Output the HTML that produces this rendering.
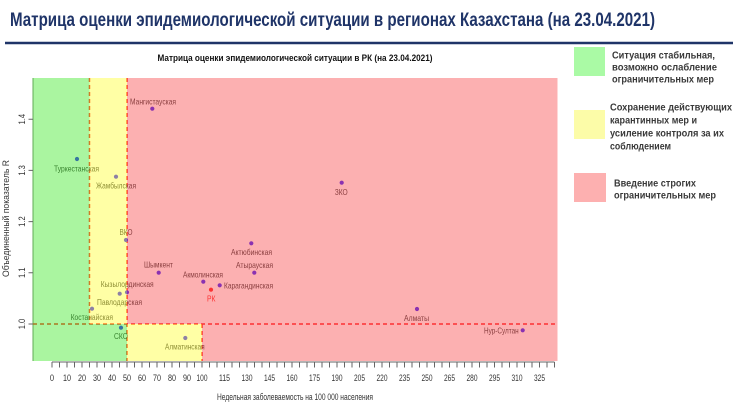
<!DOCTYPE html>
<html>
<head>
<meta charset="utf-8">
<style>
  html,body{margin:0;padding:0;background:#fff;}
  svg{display:block;}
  text{font-family:"Liberation Sans","DejaVu Sans",sans-serif;}
</style>
</head>
<body>
<svg width="740" height="413" viewBox="0 0 740 413" xmlns="http://www.w3.org/2000/svg">
  <rect x="0" y="0" width="740" height="413" fill="#ffffff"/>

  <!-- Main title -->
  <text x="10" y="26" font-size="19" font-weight="bold" fill="#1f3468" textLength="645" lengthAdjust="spacingAndGlyphs">Матрица оценки эпидемиологической ситуации в регионах Казахстана (на 23.04.2021)</text>
  <line x1="5" y1="43" x2="733" y2="43" stroke="#1f3468" stroke-width="2.5"/>

  <!-- Chart subtitle -->
  <text x="157.5" y="61" font-size="9.5" font-weight="bold" fill="#111" textLength="275" lengthAdjust="spacingAndGlyphs">Матрица оценки эпидемиологической ситуации в РК (на 23.04.2021)</text>

  <!-- ===== Plot content under overlay ===== -->
  <g>
    <line x1="33" y1="78" x2="33" y2="361" stroke="#6a6a6a" stroke-width="1"/>

    <g stroke="#ff0000" stroke-width="1.5" stroke-dasharray="4,3" fill="none">
      <line x1="89.5" y1="78" x2="89.5" y2="324"/>
      <line x1="127" y1="78" x2="127" y2="361"/>
      <line x1="202" y1="324" x2="202" y2="361"/>
      <line x1="33" y1="324" x2="557" y2="324"/>
    </g>

    <g font-size="8.5" fill="#141414">
      <text x="130" y="104.5" textLength="46" lengthAdjust="spacingAndGlyphs">Мангистауская</text>
      <text x="54" y="171.5" textLength="45" lengthAdjust="spacingAndGlyphs">Туркестанская</text>
      <text x="96" y="188.5" textLength="40" lengthAdjust="spacingAndGlyphs">Жамбылская</text>
      <text x="119.5" y="235" textLength="13" lengthAdjust="spacingAndGlyphs">ВКО</text>
      <text x="144" y="267.5" textLength="29" lengthAdjust="spacingAndGlyphs">Шымкент</text>
      <text x="231" y="255" textLength="41" lengthAdjust="spacingAndGlyphs">Актюбинская</text>
      <text x="236" y="268" textLength="37" lengthAdjust="spacingAndGlyphs">Атырауская</text>
      <text x="183" y="277.5" textLength="40" lengthAdjust="spacingAndGlyphs">Акмолинская</text>
      <text x="224" y="288.5" textLength="49" lengthAdjust="spacingAndGlyphs">Карагандинская</text>
      <text x="100.7" y="287" textLength="53" lengthAdjust="spacingAndGlyphs">Кызылординская</text>
      <text x="97" y="305" textLength="45" lengthAdjust="spacingAndGlyphs">Павлодарская</text>
      <text x="70.7" y="320" textLength="42.3" lengthAdjust="spacingAndGlyphs">Костанайская</text>
      <text x="114" y="339" textLength="14" lengthAdjust="spacingAndGlyphs">СКО</text>
      <text x="165" y="349.5" textLength="39.7" lengthAdjust="spacingAndGlyphs">Алматинская</text>
      <text x="404" y="321" textLength="25" lengthAdjust="spacingAndGlyphs">Алматы</text>
      <text x="484" y="333.5" textLength="34.7" lengthAdjust="spacingAndGlyphs">Нур-Султан</text>
      <text x="334.7" y="195" textLength="13" lengthAdjust="spacingAndGlyphs">ЗКО</text>
      <text x="207" y="301.5" textLength="8.5" lengthAdjust="spacingAndGlyphs" fill="#ff0000">РК</text>
    </g>

    <g fill="#1a00ff">
      <circle cx="152.3" cy="108.7" r="2.1"/>
      <circle cx="77" cy="159" r="2.1"/>
      <circle cx="116" cy="176.7" r="2.1"/>
      <circle cx="126" cy="240" r="2.1"/>
      <circle cx="158.7" cy="272.7" r="2.1"/>
      <circle cx="203.3" cy="281.7" r="2.1"/>
      <circle cx="219.7" cy="285.3" r="2.1"/>
      <circle cx="254.3" cy="272.7" r="2.1"/>
      <circle cx="251.3" cy="243.3" r="2.1"/>
      <circle cx="341.7" cy="182.7" r="2.1"/>
      <circle cx="127" cy="292.3" r="2.1"/>
      <circle cx="119.7" cy="293.7" r="2.1"/>
      <circle cx="92" cy="308.7" r="2.1"/>
      <circle cx="121" cy="327.7" r="2.1"/>
      <circle cx="185.3" cy="338" r="2.1"/>
      <circle cx="417" cy="309" r="2.1"/>
      <circle cx="522.7" cy="330.3" r="2.1"/>
    </g>
    <circle cx="211" cy="289.7" r="2.1" fill="#ff0000"/>
  </g>

  <!-- ===== Colored semi-transparent overlays ===== -->
  <g fill-opacity="0.5">
    <rect x="32.5" y="78" width="57" height="246" fill="#55eb41"/>
    <rect x="32.5" y="324" width="94.5" height="37" fill="#55eb41"/>
    <rect x="89.5" y="78" width="37.5" height="246" fill="#ffff4b"/>
    <rect x="127" y="324" width="75" height="37" fill="#ffff4b"/>
    <rect x="127" y="78" width="430.5" height="246" fill="#f96163"/>
    <rect x="202" y="324" width="355.5" height="37" fill="#f96163"/>
  </g>

  <!-- ===== Axes ===== -->
  <line x1="52" y1="362" x2="554.5" y2="362" stroke="#666" stroke-width="1"/>
  <g stroke="#666" stroke-width="1">
    <path d="M52 362V367.5M59.5 362V367.5M67 362V367.5M74.5 362V367.5M82 362V367.5M89.5 362V367.5M97 362V367.5M104.5 362V367.5M112 362V367.5M119.5 362V367.5M127 362V367.5M134.5 362V367.5M142 362V367.5M149.5 362V367.5M157 362V367.5M164.5 362V367.5M172 362V367.5M179.5 362V367.5M187 362V367.5M194.5 362V367.5M202 362V367.5M209.5 362V367.5M217 362V367.5M224.5 362V367.5M232 362V367.5M239.5 362V367.5M247 362V367.5M254.5 362V367.5M262 362V367.5M269.5 362V367.5M277 362V367.5M284.5 362V367.5M292 362V367.5M299.5 362V367.5M307 362V367.5M314.5 362V367.5M322 362V367.5M329.5 362V367.5M337 362V367.5M344.5 362V367.5M352 362V367.5M359.5 362V367.5M367 362V367.5M374.5 362V367.5M382 362V367.5M389.5 362V367.5M397 362V367.5M404.5 362V367.5M412 362V367.5M419.5 362V367.5M427 362V367.5M434.5 362V367.5M442 362V367.5M449.5 362V367.5M457 362V367.5M464.5 362V367.5M472 362V367.5M479.5 362V367.5M487 362V367.5M494.5 362V367.5M502 362V367.5M509.5 362V367.5M517 362V367.5M524.5 362V367.5M532 362V367.5M539.5 362V367.5M547 362V367.5M554.5 362V367.5"/>
  </g>
  <g font-size="9.5" fill="#333" text-anchor="middle">
    <text x="52" y="381" textLength="4.2" lengthAdjust="spacingAndGlyphs">0</text>
    <text x="67" y="381" textLength="8" lengthAdjust="spacingAndGlyphs">10</text>
    <text x="82" y="381" textLength="8" lengthAdjust="spacingAndGlyphs">20</text>
    <text x="97" y="381" textLength="8" lengthAdjust="spacingAndGlyphs">30</text>
    <text x="112" y="381" textLength="8" lengthAdjust="spacingAndGlyphs">40</text>
    <text x="127" y="381" textLength="8" lengthAdjust="spacingAndGlyphs">50</text>
    <text x="142" y="381" textLength="8" lengthAdjust="spacingAndGlyphs">60</text>
    <text x="157" y="381" textLength="8" lengthAdjust="spacingAndGlyphs">70</text>
    <text x="172" y="381" textLength="8" lengthAdjust="spacingAndGlyphs">80</text>
    <text x="187" y="381" textLength="8" lengthAdjust="spacingAndGlyphs">90</text>
    <text x="202" y="381" textLength="11" lengthAdjust="spacingAndGlyphs">100</text>
    <text x="224.5" y="381" textLength="11" lengthAdjust="spacingAndGlyphs">115</text>
    <text x="247" y="381" textLength="11" lengthAdjust="spacingAndGlyphs">130</text>
    <text x="269.5" y="381" textLength="11" lengthAdjust="spacingAndGlyphs">145</text>
    <text x="292" y="381" textLength="11" lengthAdjust="spacingAndGlyphs">160</text>
    <text x="314.5" y="381" textLength="11" lengthAdjust="spacingAndGlyphs">175</text>
    <text x="337" y="381" textLength="11" lengthAdjust="spacingAndGlyphs">190</text>
    <text x="359.5" y="381" textLength="11" lengthAdjust="spacingAndGlyphs">205</text>
    <text x="382" y="381" textLength="11" lengthAdjust="spacingAndGlyphs">220</text>
    <text x="404.5" y="381" textLength="11" lengthAdjust="spacingAndGlyphs">235</text>
    <text x="427" y="381" textLength="11" lengthAdjust="spacingAndGlyphs">250</text>
    <text x="449.5" y="381" textLength="11" lengthAdjust="spacingAndGlyphs">265</text>
    <text x="472" y="381" textLength="11" lengthAdjust="spacingAndGlyphs">280</text>
    <text x="494.5" y="381" textLength="11" lengthAdjust="spacingAndGlyphs">295</text>
    <text x="517" y="381" textLength="11" lengthAdjust="spacingAndGlyphs">310</text>
    <text x="539.5" y="381" textLength="11" lengthAdjust="spacingAndGlyphs">325</text>
  </g>
  <text x="217" y="400" font-size="9" fill="#333" textLength="156" lengthAdjust="spacingAndGlyphs">Недельная заболеваемость на 100 000 населения</text>

  <g stroke="#666" stroke-width="1">
    <path d="M28.5 324H33M28.5 272.8H33M28.5 221.6H33M28.5 170.4H33M28.5 119.2H33"/>
  </g>
  <g font-size="9.5" fill="#333" text-anchor="middle">
    <text transform="translate(25,324) rotate(-90)" textLength="10.5" lengthAdjust="spacingAndGlyphs">1.0</text>
    <text transform="translate(25,272.8) rotate(-90)" textLength="10.5" lengthAdjust="spacingAndGlyphs">1.1</text>
    <text transform="translate(25,221.6) rotate(-90)" textLength="10.5" lengthAdjust="spacingAndGlyphs">1.2</text>
    <text transform="translate(25,170.4) rotate(-90)" textLength="10.5" lengthAdjust="spacingAndGlyphs">1.3</text>
    <text transform="translate(25,119.2) rotate(-90)" textLength="10.5" lengthAdjust="spacingAndGlyphs">1.4</text>
  </g>
  <text transform="translate(9,218.5) rotate(-90)" font-size="9" fill="#333" text-anchor="middle" textLength="117" lengthAdjust="spacingAndGlyphs">Объединенный показатель R</text>

  <!-- ===== Legend ===== -->
  <rect x="574" y="47" width="31" height="29" fill="#aafaa5"/>
  <rect x="574" y="110" width="31" height="29" fill="#fcfca8"/>
  <rect x="574" y="173" width="32" height="29" fill="#fdb0b0"/>
  <g font-size="10.5" font-weight="bold" fill="#3a3a3a">
    <text x="612" y="58.5" textLength="103" lengthAdjust="spacingAndGlyphs">Ситуация стабильная,</text>
    <text x="612" y="70.5" textLength="105" lengthAdjust="spacingAndGlyphs">возможно ослабление</text>
    <text x="612" y="82.5" textLength="102" lengthAdjust="spacingAndGlyphs">ограничительных мер</text>

    <text x="610" y="110.5" textLength="122" lengthAdjust="spacingAndGlyphs">Сохранение действующих</text>
    <text x="610" y="123.5" textLength="87" lengthAdjust="spacingAndGlyphs">карантинных мер и</text>
    <text x="610" y="136.5" textLength="114" lengthAdjust="spacingAndGlyphs">усиление контроля за их</text>
    <text x="610" y="149.5" textLength="61" lengthAdjust="spacingAndGlyphs">соблюдением</text>

    <text x="614" y="186.5" textLength="82" lengthAdjust="spacingAndGlyphs">Введение строгих</text>
    <text x="614" y="198.5" textLength="102" lengthAdjust="spacingAndGlyphs">ограничительных мер</text>
  </g>
</svg>
</body>
</html>
